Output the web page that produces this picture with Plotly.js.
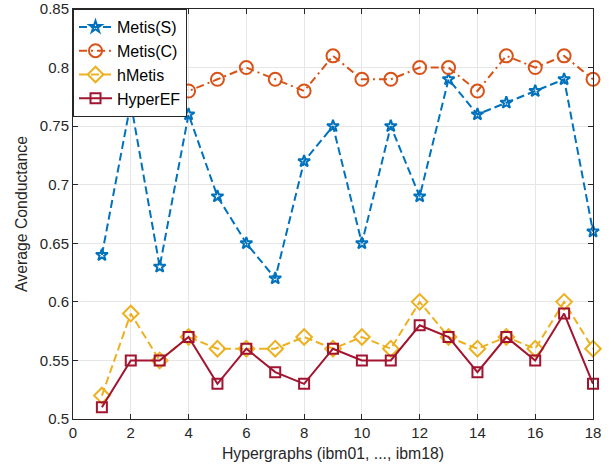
<!DOCTYPE html>
<html><head><meta charset="utf-8">
<script src="https://cdn.plot.ly/plotly-3.0.1.min.js"></script>
<style>html,body{margin:0;padding:0;background:#fff}#c{width:611px;height:469px}</style>
</head><body><div id="c"></div>
<script>
const xs = [1,2,3,4,5,6,7,8,9,10,11,12,13,14,15,16,17,18];
const metisS = [0.64,0.77,0.63,0.76,0.69,0.65,0.62,0.72,0.75,0.65,0.75,0.69,0.79,0.76,0.77,0.78,0.79,0.66];
const metisC = [0.78,0.80,0.79,0.78,0.79,0.80,0.79,0.78,0.81,0.79,0.79,0.80,0.80,0.78,0.81,0.80,0.81,0.79];
const hMetis = [0.52,0.59,0.55,0.57,0.56,0.56,0.56,0.57,0.56,0.57,0.56,0.60,0.57,0.56,0.57,0.56,0.60,0.56];
const hyperEF = [0.51,0.55,0.55,0.57,0.53,0.56,0.54,0.53,0.56,0.55,0.55,0.58,0.57,0.54,0.57,0.55,0.59,0.53];
const names = ['Metis(S)','Metis(C)','hMetis','HyperEF'];
const colors = ['#0072BD','#D95319','#EDB120','#A2142F'];
const dashes = ['8px,4px','8px,4px,2px,4px','8px,4px','solid'];
const symbols = ['star-open','circle-open','diamond-open','square-open'];
const sizes = [9,13,12,10];
const series = [metisS, metisC, hMetis, hyperEF];
const traces = series.map((y,i)=>({
  x: xs, y: y, name: names[i], type:'scatter', mode:'lines+markers', cliponaxis:false,
  line:{color:colors[i], width:2, dash:dashes[i]},
  marker:{symbol:symbols[i], size:sizes[i], color:colors[i], line:{color:colors[i], width:2}}
}));
const gridc = '#e6e6e6';
const layout = {
  width:611, height:469,
  margin:{l:73, r:18, t:9, b:50},
  paper_bgcolor:'#fff', plot_bgcolor:'#fff',
  font:{family:'Liberation Sans, Arial, sans-serif', size:15, color:'#262626'},
  showlegend:true,
  legend:{x:0, y:1, xanchor:'left', yanchor:'top', bgcolor:'#fff', bordercolor:'#262626', borderwidth:1,
    font:{size:16, color:'#000'}, tracegroupgap:0, itemwidth:33},
  xaxis:{range:[0,18], tickvals:[0,2,4,6,8,10,12,14,16,18], ticks:'inside', ticklen:5, tickcolor:'#262626',
    showline:true, linecolor:'#262626', linewidth:1, mirror:'ticks', showgrid:true, gridcolor:gridc, zeroline:false,
    title:{text:'Hypergraphs (ibm01, ..., ibm18)', font:{size:15.8, color:'#262626'}, standoff:7}},
  yaxis:{range:[0.5,0.85], tickvals:[0.5,0.55,0.6,0.65,0.7,0.75,0.8,0.85], ticktext:['0.5','0.55','0.6','0.65','0.7','0.75','0.8','0.85'],
    ticks:'inside', ticklen:5, tickcolor:'#262626',
    showline:true, linecolor:'#262626', linewidth:1, mirror:'ticks', showgrid:true, gridcolor:gridc, zeroline:false,
    title:{text:'Average Conductance', font:{size:15.8, color:'#262626'}, standoff:8}}
};
Plotly.newPlot('c', traces, layout, {displayModeBar:false, staticPlot:true});
</script></body></html>
